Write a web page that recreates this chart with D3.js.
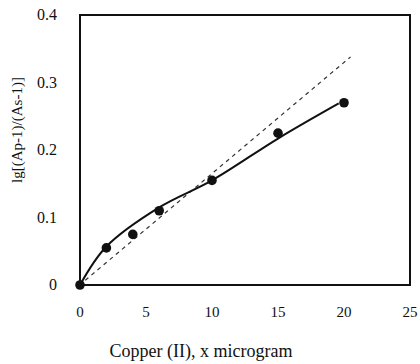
<!DOCTYPE html>
<html>
<head>
<meta charset="utf-8">
<script src="https://cdn.jsdelivr.net/npm/d3@7.9.0/dist/d3.min.js"></script>
<style>
  body { margin: 0; background: #fff; }
  svg { display: block; font-family: "Liberation Serif", "DejaVu Serif", serif; }
</style>
</head>
<body>
<svg id="chart" width="420" height="364"></svg>
<script>
// measured points
const copperX = [0, 2, 4, 6, 10, 15, 20];
const ratioY = [0, 0.055, 0.075, 0.11, 0.155, 0.225, 0.27];

// solid fitted curve
const curveX = [0, 2, 6, 10, 15, 19.6];
const curveY = [0, 0.057, 0.115, 0.155, 0.217, 0.269];

// dashed straight line
const lineX = [0.4, 20.5];
const lineY = [0.007, 0.338];

const xTicks = [0, 5, 10, 15, 20, 25];
const yTicks = [0, 0.1, 0.2, 0.3, 0.4];

const svg = d3.select('#chart');
const margin = { left: 80, top: 15, right: 10, bottom: 79 };
const width = 420 - margin.left - margin.right;
const height = 364 - margin.top - margin.bottom;

const x = d3.scaleLinear().domain([0, 25]).range([margin.left, margin.left + width]);
const y = d3.scaleLinear().domain([0, 0.4]).range([margin.top + height, margin.top]);

// frame
svg.append('rect')
  .attr('x', x(0)).attr('y', y(0.4))
  .attr('width', x(25) - x(0)).attr('height', y(0) - y(0.4))
  .attr('fill', 'none').attr('stroke', '#111').attr('stroke-width', 2);

// tick labels
svg.append('g').selectAll('text')
  .data(xTicks)
  .join('text')
  .attr('x', d => x(d))
  .attr('y', 317)
  .attr('text-anchor', 'middle')
  .attr('font-size', 15)
  .attr('fill', '#111')
  .text(d => d);

svg.append('g').selectAll('text')
  .data(yTicks)
  .join('text')
  .attr('x', 57)
  .attr('y', d => y(d) + 5)
  .attr('text-anchor', 'end')
  .attr('font-size', 16)
  .attr('fill', '#111')
  .text(d => d === 0 ? '0' : d3.format('.1f')(d));

// axis titles
svg.append('text')
  .attr('x', 201).attr('y', 357)
  .attr('text-anchor', 'middle')
  .attr('font-size', 18)
  .attr('fill', '#111')
  .text('Copper (II), x microgram');

svg.append('text')
  .attr('transform', 'translate(22,130) rotate(-90)')
  .attr('text-anchor', 'middle')
  .attr('font-size', 15)
  .attr('fill', '#111')
  .text('lg[(Ap-1)/(As-1)]');

// dashed line
svg.append('path')
  .datum(lineX.map((d, i) => [d, lineY[i]]))
  .attr('d', d3.line().x(d => x(d[0])).y(d => y(d[1])))
  .attr('fill', 'none')
  .attr('stroke', '#333')
  .attr('stroke-width', 1.2)
  .attr('stroke-dasharray', '4,4');

// fitted curve
svg.append('path')
  .datum(curveX.map((d, i) => [d, curveY[i]]))
  .attr('d', d3.line().x(d => x(d[0])).y(d => y(d[1])).curve(d3.curveCatmullRom))
  .attr('fill', 'none')
  .attr('stroke', '#111')
  .attr('stroke-width', 2);

// points
svg.append('g').selectAll('circle')
  .data(copperX.map((d, i) => [d, ratioY[i]]))
  .join('circle')
  .attr('cx', d => x(d[0]))
  .attr('cy', d => y(d[1]))
  .attr('r', 4.8)
  .attr('fill', '#111');
</script>
</body>
</html>
